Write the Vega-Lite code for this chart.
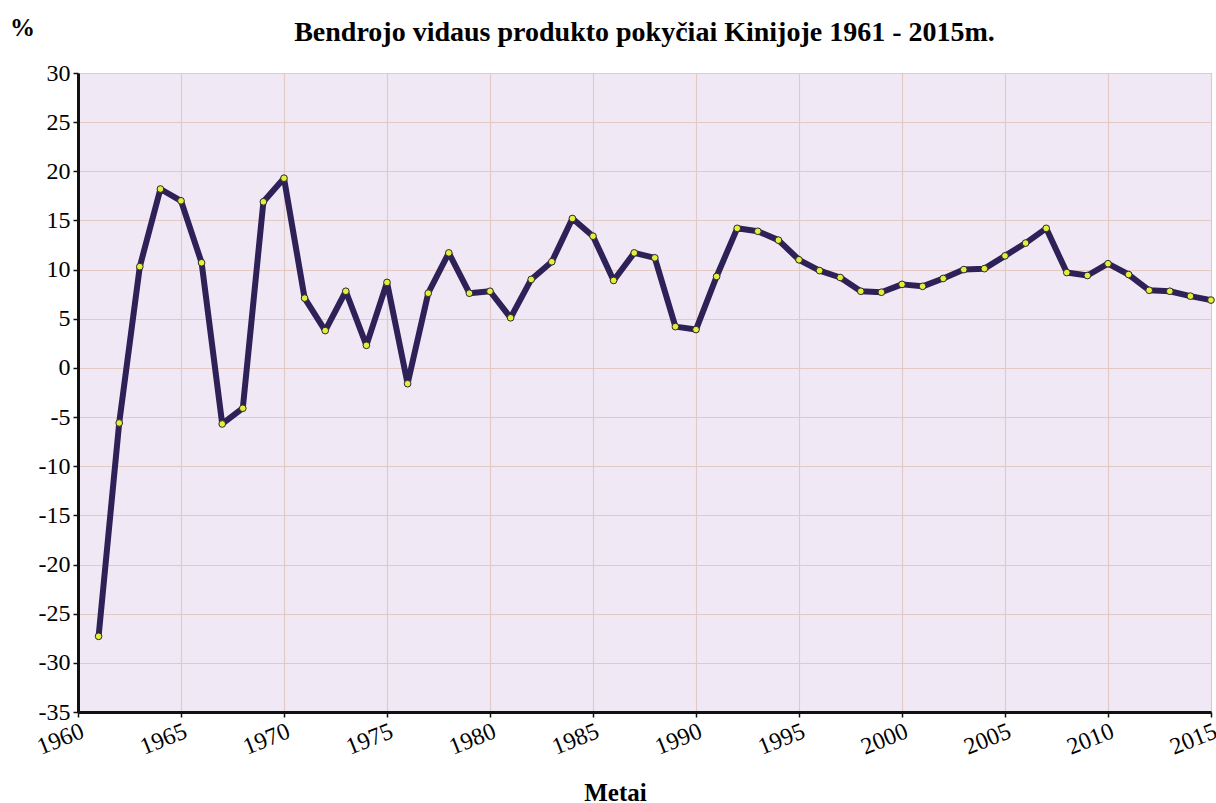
{
  "$schema": "https://vega.github.io/schema/vega-lite/v6.json",
  "width": 1133,
  "height": 639,
  "autosize": "none",
  "padding": {"left": 78, "top": 73, "right": 5, "bottom": 92},
  "background": "white",
  "title": {
    "text": "Bendrojo vidaus produkto pokyčiai Kinijoje 1961 - 2015m.",
    "font": "Liberation Serif",
    "fontSize": 28,
    "fontWeight": "bold",
    "color": "black",
    "anchor": "middle",
    "offset": 0,
    "dy": 32
  },
  "config": {
    "view": {"fill": "#f0e9f5", "stroke": "#999999", "strokeWidth": 1},
    "axis": {
      "labelFont": "Liberation Serif",
      "labelFontSize": 24,
      "labelColor": "black",
      "titleFont": "Liberation Serif",
      "titleFontSize": 25,
      "titleFontWeight": "bold",
      "titleColor": "black",
      "gridColor": "#e2c9c3",
      "gridWidth": 1.2,
      "gridOpacity": 1,
      "domainColor": "#111111",
      "domainWidth": 3,
      "tickColor": "#111111",
      "tickSize": 5,
      "tickWidth": 1.5
    }
  },
  "data": {
    "values": [
      {"year": 1961, "growth": -27.3},
      {"year": 1962, "growth": -5.6},
      {"year": 1963, "growth": 10.3},
      {"year": 1964, "growth": 18.2},
      {"year": 1965, "growth": 17.0},
      {"year": 1966, "growth": 10.7},
      {"year": 1967, "growth": -5.7},
      {"year": 1968, "growth": -4.1},
      {"year": 1969, "growth": 16.9},
      {"year": 1970, "growth": 19.3},
      {"year": 1971, "growth": 7.1},
      {"year": 1972, "growth": 3.8},
      {"year": 1973, "growth": 7.8},
      {"year": 1974, "growth": 2.3},
      {"year": 1975, "growth": 8.7},
      {"year": 1976, "growth": -1.6},
      {"year": 1977, "growth": 7.6},
      {"year": 1978, "growth": 11.7},
      {"year": 1979, "growth": 7.6},
      {"year": 1980, "growth": 7.8},
      {"year": 1981, "growth": 5.1},
      {"year": 1982, "growth": 9.0},
      {"year": 1983, "growth": 10.8},
      {"year": 1984, "growth": 15.2},
      {"year": 1985, "growth": 13.4},
      {"year": 1986, "growth": 8.9},
      {"year": 1987, "growth": 11.7},
      {"year": 1988, "growth": 11.2},
      {"year": 1989, "growth": 4.2},
      {"year": 1990, "growth": 3.9},
      {"year": 1991, "growth": 9.3},
      {"year": 1992, "growth": 14.2},
      {"year": 1993, "growth": 13.9},
      {"year": 1994, "growth": 13.0},
      {"year": 1995, "growth": 11.0},
      {"year": 1996, "growth": 9.9},
      {"year": 1997, "growth": 9.2},
      {"year": 1998, "growth": 7.8},
      {"year": 1999, "growth": 7.7},
      {"year": 2000, "growth": 8.5},
      {"year": 2001, "growth": 8.3},
      {"year": 2002, "growth": 9.1},
      {"year": 2003, "growth": 10.0},
      {"year": 2004, "growth": 10.1},
      {"year": 2005, "growth": 11.4},
      {"year": 2006, "growth": 12.7},
      {"year": 2007, "growth": 14.2},
      {"year": 2008, "growth": 9.7},
      {"year": 2009, "growth": 9.4},
      {"year": 2010, "growth": 10.6},
      {"year": 2011, "growth": 9.5},
      {"year": 2012, "growth": 7.9},
      {"year": 2013, "growth": 7.8},
      {"year": 2014, "growth": 7.3},
      {"year": 2015, "growth": 6.9}
    ]
  },
  "encoding": {
    "x": {
      "field": "year",
      "type": "quantitative",
      "scale": {"domain": [1960, 2015], "nice": false, "zero": false},
      "axis": {
        "values": [1960, 1965, 1970, 1975, 1980, 1985, 1990, 1995, 2000, 2005, 2010, 2015],
        "format": "d",
        "labelAngle": -22,
        "labelAlign": "right",
        "labelBaseline": "top",
        "labelPadding": 2,
        "labelOverlap": false,
        "labelBound": false,
        "title": "Metai",
        "titleX": 537,
        "titleY": 88,
        "titleAnchor": "middle",
        "titleAlign": "center",
        "titleBaseline": "alphabetic"
      }
    },
    "y": {
      "field": "growth",
      "type": "quantitative",
      "scale": {"domain": [-35, 30], "nice": false, "zero": false},
      "axis": {
        "values": [-35, -30, -25, -20, -15, -10, -5, 0, 5, 10, 15, 20, 25, 30],
        "labelExpr": "'' + datum.value",
        "labelPadding": 3,
        "title": "%",
        "titleAngle": 0,
        "titleX": -56,
        "titleY": -38,
        "titleAlign": "center",
        "titleBaseline": "alphabetic"
      }
    }
  },
  "layer": [
    {
      "mark": {"type": "line", "color": "#2e2158", "strokeWidth": 6, "strokeJoin": "round", "strokeCap": "round"}
    },
    {
      "mark": {"type": "point", "filled": true, "fill": "#e4ee3e", "stroke": "#2a2a2a", "strokeWidth": 1, "size": 45, "opacity": 1}
    }
  ]
}
